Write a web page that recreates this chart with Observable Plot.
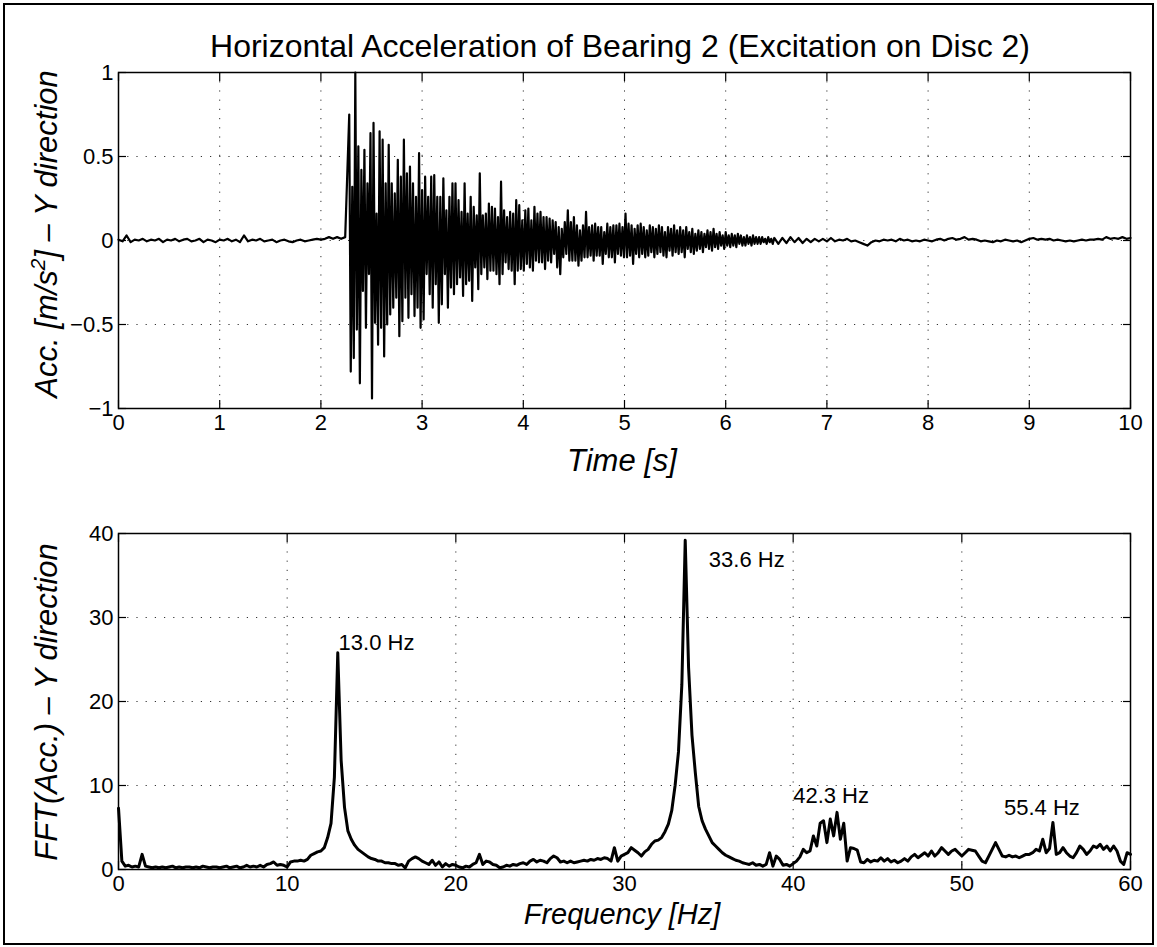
<!DOCTYPE html>
<html>
<head>
<meta charset="utf-8">
<script src="https://cdn.jsdelivr.net/npm/d3@7"></script>
<script src="https://cdn.jsdelivr.net/npm/@observablehq/plot@0.6"></script>
<style>
  body { margin: 0; background: #fff; }
  #fig { position: relative; width: 1157px; height: 947px; background: #fff; overflow: hidden; }
  #fig > svg, #fig > figure { position: absolute; left: 0; margin: 0; }
</style>
</head>
<body>
<div id="fig"></div>
<script>
// ---------------- DATA ----------------
const titleText = "Horizontal Acceleration of Bearing 2 (Excitation on Disc 2)";

// time signal, segment A: quiet before impact (start 0 s, step 0.04 s)
const accAStart = 0, accAStep = 0.04;
const accA = [
  0.005,-0.005,0.03,-0.01,0.005,0.0,0.01,-0.005,0.005,0.0,
  0.01,-0.01,0.005,0.0,0.01,-0.005,0.005,0.01,-0.005,0.0,
  0.01,-0.01,0.005,0.0,-0.01,0.005,0.0,0.01,-0.005,0.005,
  -0.01,0.03,-0.005,0.005,0.0,0.01,-0.005,0.0,0.005,-0.01,
  0.0,0.005,-0.005,-0.01,0.0,0.005,-0.005,0.0,0.005,0.01,
  0.005,0.01,0.02,0.01,0.02,0.01,0.02
];
// segment B: decaying response after impact (start 2.28 s, step 0.015 s), peak / trough pairs
const accBStart = 2.28, accBStep = 0.015;
const accB = [
  0.75,-0.78, 0.32,-0.70, 1.00,-0.53, 0.56,-0.85, 0.42,-0.30,
  0.54,-0.52, 0.34,-0.20, 0.64,-0.94, 0.70,-0.49, 0.16,-0.62,
  0.65,-0.52, 0.60,-0.69, 0.34,-0.50, 0.57,-0.44, 0.34,-0.40,
  0.28,-0.34, 0.48,-0.57, 0.38,-0.48, 0.60,-0.34, 0.40,-0.46,
  0.44,-0.32, 0.34,-0.45, 0.26,-0.40, 0.52,-0.52, 0.30,-0.47,
  0.38,-0.20, 0.26,-0.32, 0.38,-0.40, 0.39,-0.26, 0.26,-0.49,
  0.26,-0.38, 0.37,-0.20, 0.18,-0.40, 0.26,-0.28, 0.34,-0.32,
  0.34,-0.26, 0.24,-0.22, 0.17,-0.33, 0.34,-0.26, 0.16,-0.24,
  0.26,-0.36, 0.20,-0.16, 0.15,-0.29, 0.40,-0.20, 0.15,-0.16,
  0.16,-0.23, 0.22,-0.18, 0.20,-0.18, 0.19,-0.20, 0.14,-0.26,
  0.35,-0.20, 0.18,-0.13, 0.14,-0.17, 0.17,-0.18, 0.16,-0.26,
  0.24,-0.18, 0.21,-0.17, 0.12,-0.18, 0.18,-0.14, 0.19,-0.16,
  0.12,-0.18, 0.20,-0.12, 0.16,-0.13, 0.17,-0.13, 0.14,-0.17,
  0.14,-0.12, 0.13,-0.13, 0.12,-0.08, 0.11,-0.16, 0.08,-0.20,
  0.07,-0.10, 0.11,-0.08, 0.18,-0.12, 0.11,-0.12, 0.14,-0.12,
  0.09,-0.15, 0.06,-0.12, 0.09,-0.10, 0.17,-0.10, 0.08,-0.09,
  0.09,-0.12, 0.10,-0.09, 0.08,-0.09, 0.08,-0.14, 0.05,-0.08,
  0.10,-0.10, 0.08,-0.10, 0.09,-0.13, 0.09,-0.08, 0.10,-0.09,
  0.08,-0.10, 0.16,-0.10, 0.10,-0.09, 0.09,-0.14, 0.07,-0.08,
  0.09,-0.10, 0.10,-0.08, 0.08,-0.10, 0.06,-0.09, 0.09,-0.07,
  0.08,-0.10, 0.07,-0.08, 0.09,-0.07, 0.08,-0.09, 0.05,-0.10,
  0.08,-0.06, 0.07,-0.09, 0.09,-0.07, 0.06,-0.08, 0.08,-0.07,
  0.06,-0.10, 0.08,-0.05, 0.05,-0.07, 0.07,-0.08, 0.04,-0.06,
  0.06,-0.05, 0.05,-0.07, 0.04,-0.04, 0.06,-0.05, 0.05,-0.06,
  0.07,-0.04, 0.04,-0.05, 0.05,-0.03, 0.03,-0.05, 0.05,-0.03,
  0.03,-0.04, 0.04,-0.03, 0.03,-0.04, 0.04,-0.02, 0.03,-0.03,
  0.02,-0.03, 0.03,-0.02, 0.02,-0.03, 0.03,-0.02, 0.02,-0.02,
  0.02,-0.02, 0.02,-0.01, 0.01,-0.02, 0.02,-0.01, 0.01,-0.02
];
// segment C: residual noise (start 6.48 s, step 0.04 s)
const accCStart = 6.48, accCStep = 0.04;
const accC = [
  0.015,-0.02,0.015,-0.015,0.02,-0.01,0.015,-0.015,0.01,-0.01,
  0.01,-0.005,0.01,-0.005,0.015,-0.005,0.005,0.0,0.01,-0.005,
  0.0,-0.01,-0.02,-0.03,-0.01,0.0,-0.005,0.005,0.0,0.005,
  -0.005,0.01,0.0,0.005,-0.005,0.0,-0.005,0.005,0.0,-0.005,
  0.005,0.01,0.0,0.01,0.015,0.005,0.01,0.02,0.005,0.01,
  0.005,-0.005,0.0,-0.005,-0.01,0.0,-0.005,0.005,0.0,-0.005,
  0.0,-0.01,0.0,0.01,0.015,0.005,0.01,0.005,0.01,0.0,
  0.005,0.0,-0.005,0.0,-0.005,0.0,0.005,0.0,0.005,0.005,
  0.01,0.005,0.02,0.01,0.015,0.01,0.02,0.01,0.015
];

// FFT amplitude, 0 to 60 Hz every 0.2 Hz
const fftStart = 0, fftStep = 0.2;
const fftAmp = [
  7.3,1.0,0.4,0.5,0.3,0.4,0.3,1.8,0.4,0.3,
  0.2,0.3,0.2,0.3,0.2,0.3,0.4,0.2,0.3,0.2,
  0.3,0.3,0.2,0.3,0.2,0.4,0.3,0.2,0.3,0.3,
  0.2,0.3,0.4,0.2,0.3,0.4,0.2,0.3,0.5,0.3,
  0.4,0.3,0.5,0.3,0.6,0.7,0.9,0.5,0.6,0.5,
  0.3,0.9,1.0,1.0,1.1,1.0,1.2,1.7,1.9,2.1,
  2.2,2.6,3.8,5.5,11.0,25.8,13.0,7.4,4.6,3.6,
  2.9,2.4,2.1,1.8,1.5,1.3,1.2,1.0,1.0,0.8,
  0.8,0.7,0.7,0.5,0.6,0.2,1.0,1.3,1.5,1.3,
  1.0,0.8,0.6,1.1,0.5,0.9,0.3,0.7,0.4,0.6,
  0.5,0.3,0.2,0.4,0.3,0.6,0.8,1.8,0.6,1.0,
  0.9,0.6,0.5,0.2,0.3,0.5,0.4,0.6,0.5,0.7,
  0.8,0.6,1.0,1.2,0.9,1.1,1.0,0.8,1.3,1.6,
  1.4,0.9,1.0,0.8,1.0,0.8,0.9,1.0,1.1,1.0,
  1.2,1.1,1.3,1.2,1.4,1.3,1.0,2.6,1.0,1.6,
  1.8,2.0,2.6,2.3,2.0,1.6,2.1,2.4,3.0,3.4,
  3.5,3.8,4.5,5.4,7.0,10.0,14.0,22.0,39.2,24.0,
  16.0,11.5,7.5,5.8,4.8,4.0,3.2,2.8,2.4,2.0,
  1.7,1.5,1.3,1.1,1.0,0.8,0.7,0.6,0.8,0.5,
  0.6,0.4,0.6,2.0,0.4,1.6,1.2,0.5,0.6,0.4,
  0.7,1.0,1.5,2.4,2.0,2.2,4.0,2.8,5.5,5.8,
  3.2,6.0,4.0,6.8,3.6,5.5,1.0,2.6,2.5,2.3,
  0.9,0.8,1.2,0.9,1.1,1.0,1.4,1.0,1.3,0.9,
  1.1,0.8,1.0,1.3,1.0,1.5,1.8,1.4,1.7,2.0,
  1.6,2.2,1.6,2.0,2.6,2.2,1.8,2.2,2.4,2.0,
  1.6,2.0,2.4,2.3,2.2,1.6,1.0,0.8,1.6,2.4,
  3.2,2.4,1.6,1.5,1.7,1.5,1.6,1.4,1.6,1.8,
  1.8,2.0,2.4,2.2,3.6,2.0,2.5,5.6,1.8,2.0,
  2.6,2.0,1.6,1.4,2.0,2.8,2.4,1.8,2.2,2.8,
  2.6,3.0,2.4,2.8,2.2,2.8,2.2,1.0,0.6,2.0,
  1.8
];

// peak annotations
const peakLabels = ["13.0 Hz", "33.6 Hz", "42.3 Hz", "55.4 Hz"];
const peakLabelX = [13.05, 35.0, 40.0, 52.5];
const peakLabelY = [26.1, 36.0, 7.9, 6.5];

// ticks
const timeTicks = [0,1,2,3,4,5,6,7,8,9,10];
const accTicks = [-1,-0.5,0,0.5,1];
const freqTicks = [0,10,20,30,40,50,60];
const ampTicks = [0,10,20,30,40];

const timeLabel = "Time [s]";
const freqLabel = "Frequency [Hz]";
const accLabel = ["Acc. [m/s", "2", "] \u2013 Y direction"];
const fftLabel = "FFT(Acc.) \u2013 Y direction";

// ---------------- TABLES ----------------
const timeData = [];
[[accAStart, accAStep, accA], [accBStart, accBStep, accB], [accCStart, accCStep, accC]]
  .forEach(([t0, dt, vals]) => vals.forEach((a, i) => timeData.push({t: +(t0 + i * dt).toFixed(4), a})));
const fftData = fftAmp.map((v, i) => ({f: +(fftStart + i * fftStep).toFixed(2), v}));
const annData = peakLabels.map((s, i) => ({s, x: peakLabelX[i], y: peakLabelY[i]}));

// ---------------- DRAW ----------------
const FONT = "'Liberation Sans', Arial, Helvetica, sans-serif";
const fmt = d3.format("~g");
const gridStyle = {stroke: "#000", strokeOpacity: 0.8, strokeWidth: 1, strokeDasharray: "1.2,8"};

function axes(xt, yt) {
  return [
    Plot.axisX(xt, {anchor: "bottom", tickSize: -8, tickPadding: 14, tickFormat: fmt, label: null, strokeWidth: 1.2}),
    Plot.axisX(xt, {anchor: "top", tickSize: -8, tickFormat: () => "", label: null, strokeWidth: 1.2}),
    Plot.axisY(yt, {anchor: "left", tickSize: -8, tickPadding: 13, tickFormat: fmt, label: null, strokeWidth: 1.2}),
    Plot.axisY(yt, {anchor: "right", tickSize: -8, tickFormat: () => "", label: null, strokeWidth: 1.2})
  ];
}

const styleObj = {fontFamily: FONT, fontSize: "22px", color: "#000", background: "transparent", overflow: "visible"};

const topPlot = Plot.plot({
  width: 1157, height: 480,
  marginLeft: 118, marginRight: 27, marginTop: 72, marginBottom: 72,
  style: styleObj,
  x: {domain: [0, 10]},
  y: {domain: [-1, 1]},
  marks: [
    Plot.gridX(timeTicks, gridStyle),
    Plot.gridY(accTicks, gridStyle),
    Plot.line(timeData, {x: "t", y: "a", stroke: "#000", strokeWidth: 2.2}),
    Plot.frame({stroke: "#000", strokeWidth: 1.5}),
    ...axes(timeTicks, accTicks)
  ]
});

const botPlot = Plot.plot({
  width: 1157, height: 467,
  marginLeft: 118, marginRight: 27, marginTop: 53, marginBottom: 78,
  style: styleObj,
  x: {domain: [0, 60]},
  y: {domain: [0, 40]},
  marks: [
    Plot.gridX(freqTicks, gridStyle),
    Plot.gridY(ampTicks, gridStyle),
    Plot.line(fftData, {x: "f", y: "v", stroke: "#000", strokeWidth: 3, strokeLinejoin: "round"}),
    Plot.text(annData, {x: "x", y: "y", text: "s", textAnchor: "start", lineAnchor: "bottom", fontSize: 22, fill: "#000"}),
    Plot.frame({stroke: "#000", strokeWidth: 1.5}),
    ...axes(freqTicks, ampTicks)
  ]
});

const fig = document.getElementById("fig");
topPlot.style.top = "0px";
botPlot.style.top = "480px";
fig.appendChild(topPlot);
fig.appendChild(botPlot);

// overlay: figure border, title and axis labels
const ov = d3.select(fig).append("svg")
  .attr("width", 1157).attr("height", 947)
  .style("position", "absolute").style("left", 0).style("top", 0)
  .style("font-family", FONT).style("pointer-events", "none");
ov.append("rect").attr("x", 4).attr("y", 4).attr("width", 1149).attr("height", 940)
  .attr("fill", "none").attr("stroke", "#000").attr("stroke-width", 2);
ov.append("text").attr("x", 620).attr("y", 57).attr("text-anchor", "middle")
  .attr("font-size", 32).text(titleText);
ov.append("text").attr("x", 622).attr("y", 471).attr("text-anchor", "middle")
  .attr("font-size", 31).attr("font-style", "italic").text(timeLabel);
ov.append("text").attr("x", 622).attr("y", 924).attr("text-anchor", "middle")
  .attr("font-size", 29).attr("font-style", "italic").text(freqLabel);
const yl1 = ov.append("text").attr("transform", "translate(57,234) rotate(-90)")
  .attr("text-anchor", "middle").attr("font-size", 31).attr("font-style", "italic");
yl1.append("tspan").text(accLabel[0]);
yl1.append("tspan").attr("dy", -12).attr("font-size", 21).text(accLabel[1]);
yl1.append("tspan").attr("dy", 12).text(accLabel[2]);
ov.append("text").attr("transform", "translate(57,702) rotate(-90)")
  .attr("text-anchor", "middle").attr("font-size", 31).attr("font-style", "italic").text(fftLabel);
</script>
</body>
</html>
